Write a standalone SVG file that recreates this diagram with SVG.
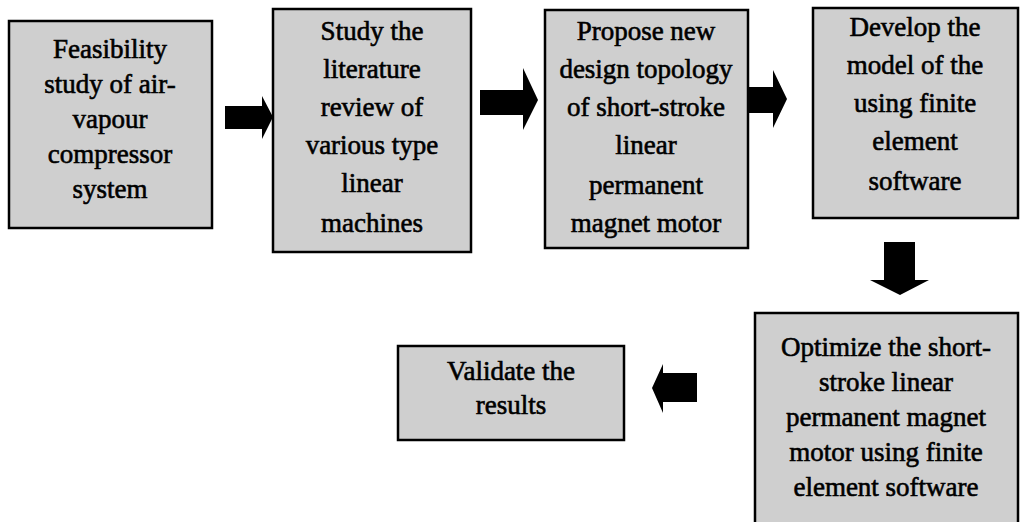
<svg xmlns="http://www.w3.org/2000/svg" width="1020" height="522" viewBox="0 0 1020 522">
<style>
.box{fill:#cfcfcf;stroke:#000;stroke-width:2.5}
.t{font-family:"Liberation Serif","Times New Roman",serif;font-size:27px;fill:#000;stroke:#000;stroke-width:0.6;text-anchor:middle}
.arrow{fill:#000}
</style>
<rect width="1020" height="522" fill="#fff"/>
<g id="connectors">
<polygon class="arrow" points="225,106 262,106 262,96 273,117 262,139 262,129 225,129"/>
<polygon class="arrow" points="480,90 523,90 523,68 538,100 523,130 523,115 480,115"/>
<polygon class="arrow" points="743,87 773,87 773,70 787,99 773,128 773,113 743,113"/>
<polygon class="arrow" points="884,242 915,242 915,280 929,280 900,295 870,280 884,280"/>
<polygon class="arrow" points="697,373 663,373 663,364 652,388 663,413 663,402 697,402"/>
</g>
<g id="n1">
<rect class="box" x="9" y="21" width="203" height="207"/>
<text class="t" x="110"><tspan x="110" y="58">Feasibility</tspan><tspan x="110" y="93">study of air-</tspan><tspan x="110" y="128">vapour</tspan><tspan x="110" y="163">compressor</tspan><tspan x="110" y="198">system</tspan></text>
</g>
<g id="n2">
<rect class="box" x="273" y="9" width="198" height="243"/>
<text class="t"><tspan x="372" y="40">Study the</tspan><tspan x="372" y="78">literature</tspan><tspan x="372" y="116">review of</tspan><tspan x="372" y="154">various type</tspan><tspan x="372" y="192">linear</tspan><tspan x="372" y="232">machines</tspan></text>
</g>
<g id="n3">
<rect class="box" x="545" y="10" width="203" height="238"/>
<text class="t"><tspan x="646" y="40">Propose new</tspan><tspan x="646" y="78">design topology</tspan><tspan x="646" y="116">of short-stroke</tspan><tspan x="646" y="154">linear</tspan><tspan x="646" y="194">permanent</tspan><tspan x="646" y="232">magnet motor</tspan></text>
</g>
<g id="n4">
<rect class="box" x="813" y="8" width="205" height="210"/>
<text class="t"><tspan x="915" y="36">Develop the</tspan><tspan x="915" y="74">model of the</tspan><tspan x="915" y="112">using finite</tspan><tspan x="915" y="150">element</tspan><tspan x="915" y="190">software</tspan></text>
</g>
<g id="n5">
<rect class="box" x="755" y="313" width="263" height="220"/>
<text class="t"><tspan x="886" y="356">Optimize the short-</tspan><tspan x="886" y="391">stroke linear</tspan><tspan x="886" y="426">permanent magnet</tspan><tspan x="886" y="461">motor using finite</tspan><tspan x="886" y="496">element software</tspan></text>
</g>
<g id="n6">
<rect class="box" x="398" y="346" width="226" height="94"/>
<text class="t"><tspan x="511" y="380">Validate the</tspan><tspan x="511" y="414">results</tspan></text>
</g>
</svg>
